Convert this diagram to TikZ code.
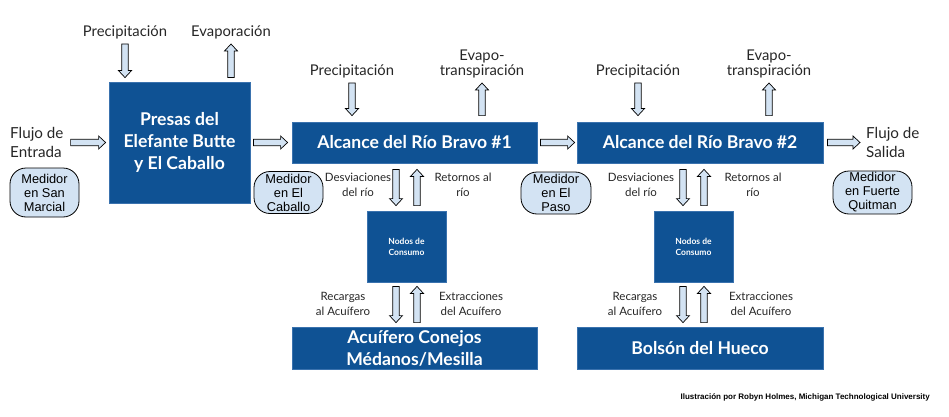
\documentclass[tikz,border=0pt]{standalone}
\usepackage{fontspec}
\setmainfont{Lato}
\newfontfamily\arialf{Liberation Sans}
\usetikzlibrary{calc}
\definecolor{boxblue}{HTML}{0F5294}
\definecolor{boxedge}{HTML}{3A72AE}
\definecolor{lightblue}{HTML}{D3E3F3}
\definecolor{txt}{HTML}{262626}
\tikzset{
 bluebox/.style={draw=boxedge, line width=0.8pt, fill=boxblue, text=white, font=\bfseries\fontsize{17.6}{22}\selectfont, align=center, inner sep=0pt},
 nodbox/.style={bluebox, font=\bfseries\fontsize{8.5}{11}\selectfont, minimum width=79pt, minimum height=71pt},
 meter/.style={draw=black, line width=0.8pt, fill=lightblue, rounded corners=16pt, align=center, inner sep=0pt, font=\arialf\fontsize{12.8}{14}\selectfont},
 lbl/.style={text=txt, align=center, inner sep=0pt, font=\fontsize{14.8}{15}\selectfont},
 slbl/.style={text=txt, align=center, inner sep=0pt, font=\fontsize{11.5}{15}\selectfont},
 barrow/.style={draw=black, line width=0.7pt, fill=lightblue, line join=miter},
}
\newcommand\blockarr[2]{%
 \draw[barrow] let \p1=(#1), \p2=(#2), \n1={atan2(\y2-\y1,\x2-\x1)} in
  ($(\p1)+(\n1+90:3.2pt)$) -- ($(\p2)+(\n1:-7pt)+(\n1+90:3.2pt)$) -- ($(\p2)+(\n1:-7pt)+(\n1+90:6.5pt)$) -- (\p2) -- ($(\p2)+(\n1:-7pt)+(\n1-90:6.5pt)$) -- ($(\p2)+(\n1:-7pt)+(\n1-90:3.2pt)$) -- ($(\p1)+(\n1-90:3.2pt)$) -- cycle;}
\begin{document}
\begin{tikzpicture}[x=1pt,y=-1pt]
\useasboundingbox (0,0) rectangle (949,417);
% main boxes
\node[bluebox, minimum width=141pt, minimum height=121pt] (presas) at (179.5,142.5) {Presas del\\Elefante Butte\\y El Caballo};
\node[bluebox, minimum width=245pt, minimum height=41pt] (alc1) at (414.5,142.5) {Alcance del Río Bravo \#1};
\node[bluebox, minimum width=246pt, minimum height=41pt] (alc2) at (700,142.5) {Alcance del Río Bravo \#2};
\node[nodbox] (nod1) at (406.5,246.5) {Nodos de\\Consumo};
\node[nodbox] (nod2) at (693.5,246.5) {Nodos de\\Consumo};
\node[bluebox, minimum width=245pt, minimum height=42pt] (acu) at (414.5,348) {Acuífero Conejos\\Médanos/Mesilla};
\node[bluebox, minimum width=246pt, minimum height=42pt] (bol) at (700,348) {Bolsón del Hueco};
% meters
\node[meter, minimum width=69pt, minimum height=49pt] (sm) at (44.5,192.5) {Medidor\\en San\\Marcial};
\node[meter, minimum width=69pt, minimum height=42pt] (ec) at (288.5,192.5) {Medidor\\en El\\Caballo};
\node[meter, minimum width=70pt, minimum height=42pt] (ep) at (556,193) {Medidor\\en El\\Paso};
\node[meter, minimum width=79pt, minimum height=43pt] (fq) at (872.5,192.5) {Medidor\\en Fuerte\\Quitman};
% labels
\node[lbl] (prec1) at (125,32) {Precipitación};
\node[lbl] (evap1) at (231,32) {Evaporación};
\node[lbl] (prec2) at (352,71) {Precipitación};
\node[lbl] (evap2) at (482,63.5) {Evapo-\\transpiración};
\node[lbl] (prec3) at (638,71) {Precipitación};
\node[lbl] (evap3) at (769,63.5) {Evapo-\\transpiración};
\node[lbl, align=left, anchor=west, font=\fontsize{15.2}{19}\selectfont] (fin) at (10,142.5) {Flujo de\\Entrada};
\node[lbl, align=left, anchor=west, font=\fontsize{15.2}{19}\selectfont] (fout) at (866,142.5) {Flujo de\\Salida};
\node[slbl] (desv1) at (358,184.5) {Desviaciones\\del río};
\node[slbl] (ret1) at (463,184.5) {Retornos al\\río};
\node[slbl] (rec1) at (343,304) {Recargas\\al Acuífero};
\node[slbl] (ext1) at (471,304) {Extracciones\\del Acuífero};
\node[slbl] (desv2) at (641,184.5) {Desviaciones\\del río};
\node[slbl] (ret2) at (753,184.5) {Retornos al\\río};
\node[slbl] (rec2) at (635,304) {Recargas\\al Acuífero};
\node[slbl] (ext2) at (761,304) {Extracciones\\del Acuífero};
\node[anchor=east, inner sep=0pt, font=\arialf\bfseries\fontsize{8}{9}\selectfont] (cred) at (930,397) {Ilustración por Robyn Holmes, Michigan Technological University};
% horizontal arrows
\blockarr{$(presas.west)+(-38,0)$}{$(presas.west)+(-3,0)$}
\blockarr{$(presas.east |- alc1.west)+(3,0)$}{$(alc1.west)+(-4,0)$}
\blockarr{$(alc1.east)+(3,0)$}{$(alc2.west)+(-2,0)$}
\blockarr{$(alc2.east)+(4,0)$}{$(fout.west)+(-6,0)$}
% top arrows
\blockarr{$(prec1.center)+(0,12)$}{$(prec1.center |- presas.north)+(0,-4)$}
\blockarr{$(evap1.center |- presas.north)+(0,-4)$}{$(evap1.center)+(0,12)$}
\blockarr{$(prec2.center)+(0,12)$}{$(prec2.center |- alc1.north)+(0,-6)$}
\blockarr{$(evap2.center |- alc1.north)+(0,-6)$}{$(evap2.center)+(0,19.5)$}
\blockarr{$(prec3.center)+(0,12)$}{$(prec3.center |- alc2.north)+(0,-6)$}
\blockarr{$(evap3.center |- alc2.north)+(0,-6)$}{$(evap3.center)+(0,19.5)$}
% vertical arrows reach 1
\blockarr{$(nod1.center |- alc1.south)+(-10.5,6)$}{$(nod1.north)+(-10.5,-5)$}
\blockarr{$(nod1.north)+(10.5,-5)$}{$(nod1.center |- alc1.south)+(10.5,6)$}
\blockarr{$(nod1.south)+(-10.5,4)$}{$(nod1.center |- acu.north)+(-10.5,-4)$}
\blockarr{$(nod1.center |- acu.north)+(10.5,-4)$}{$(nod1.south)+(10.5,4)$}
% vertical arrows reach 2
\blockarr{$(nod2.center |- alc2.south)+(-10.5,6)$}{$(nod2.north)+(-10.5,-5)$}
\blockarr{$(nod2.north)+(10.5,-5)$}{$(nod2.center |- alc2.south)+(10.5,6)$}
\blockarr{$(nod2.south)+(-10.5,4)$}{$(nod2.center |- bol.north)+(-10.5,-4)$}
\blockarr{$(nod2.center |- bol.north)+(10.5,-4)$}{$(nod2.south)+(10.5,4)$}
\end{tikzpicture}
\end{document}
